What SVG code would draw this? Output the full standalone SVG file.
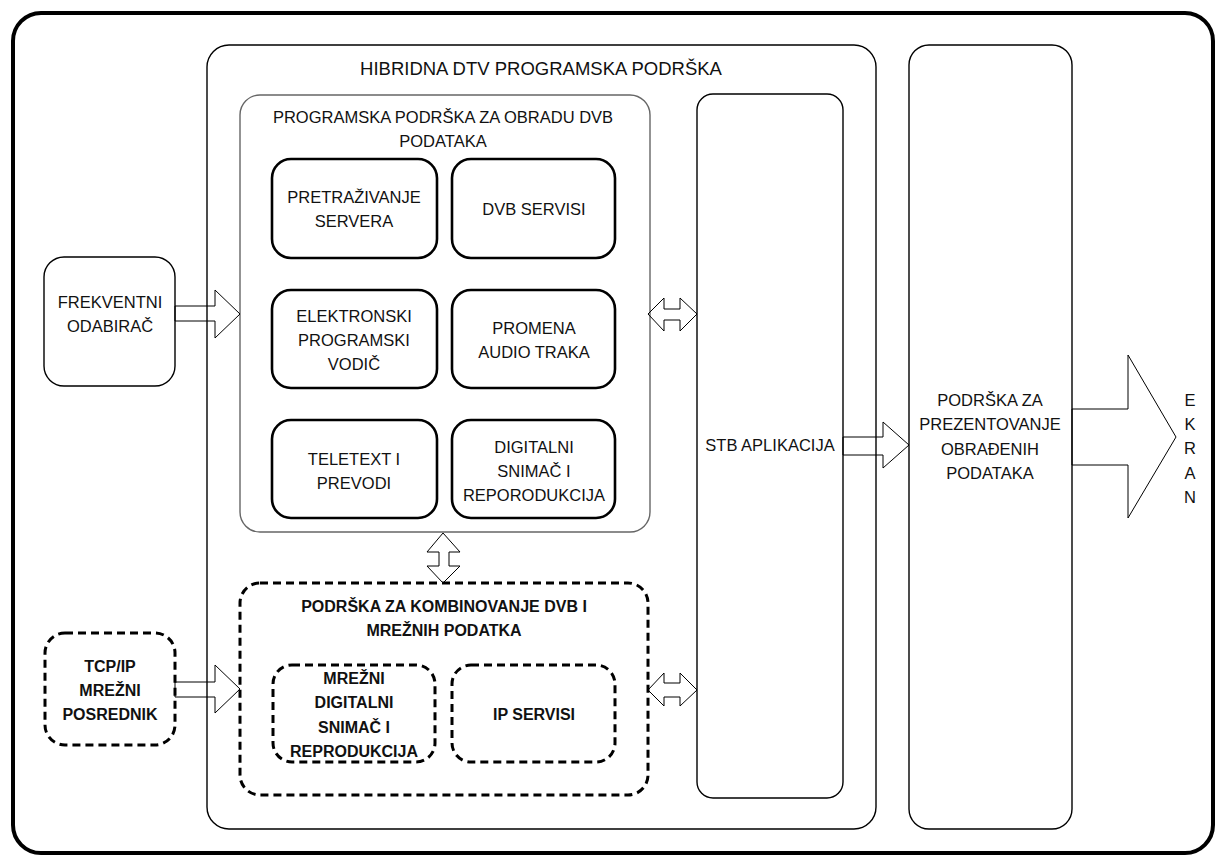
<svg xmlns="http://www.w3.org/2000/svg" width="1219" height="856" viewBox="0 0 1219 856">
<style>
text{font-family:"Liberation Sans",Arial,sans-serif;font-size:16.5px;fill:#111;text-anchor:middle}
.b{font-weight:bold;font-size:16px}
.t{font-size:18.5px}
.thin{fill:none;stroke:#000;stroke-width:1.4}
.gray{fill:none;stroke:#666;stroke-width:1.4}
.sub{fill:none;stroke:#000;stroke-width:2.6}
.dash{fill:none;stroke:#000;stroke-width:3;stroke-dasharray:8 5}
.arr{fill:none;stroke:#000;stroke-width:1}
</style>
<rect x="0" y="0" width="1219" height="856" fill="#fff"/>
<rect id="frame" x="13" y="13" width="1200" height="840" rx="28" fill="none" stroke="#000" stroke-width="4"/>
<g id="hybrid">
<rect class="thin" x="207" y="45" width="669" height="784" rx="22"/>
<text class="t" x="541" y="75">HIBRIDNA DTV PROGRAMSKA PODRŠKA</text>
</g>
<g id="dvb">
<rect class="gray" x="240" y="95" width="410" height="437" rx="20"/>
<text x="443" y="123">PROGRAMSKA PODRŠKA ZA OBRADU DVB</text>
<text x="443" y="147">PODATAKA</text>
</g>
<g id="pretrazivanje">
<rect class="sub" x="272" y="159" width="165" height="99" rx="19"/>
<text x="354" y="203">PRETRAŽIVANJE</text>
<text x="354" y="227">SERVERA</text>
</g>
<g id="dvbservisi">
<rect class="sub" x="452" y="159" width="163" height="99" rx="19"/>
<text x="534" y="215">DVB SERVISI</text>
</g>
<g id="epg">
<rect class="sub" x="272" y="290" width="165" height="98" rx="19"/>
<text x="354" y="322">ELEKTRONSKI</text>
<text x="354" y="346">PROGRAMSKI</text>
<text x="354" y="370">VODIČ</text>
</g>
<g id="audio">
<rect class="sub" x="452" y="290" width="163" height="98" rx="19"/>
<text x="534" y="334">PROMENA</text>
<text x="534" y="358">AUDIO TRAKA</text>
</g>
<g id="teletext">
<rect class="sub" x="272" y="420" width="165" height="98" rx="19"/>
<text x="354" y="465">TELETEXT I</text>
<text x="354" y="489">PREVODI</text>
</g>
<g id="dvr">
<rect class="sub" x="452" y="420" width="163" height="98" rx="19"/>
<text x="534" y="453">DIGITALNI</text>
<text x="534" y="477">SNIMAČ I</text>
<text x="534" y="501">REPORODUKCIJA</text>
</g>
<g id="kombinovanje">
<rect class="dash" x="240" y="583" width="408" height="212" rx="20"/>
<text class="b" x="444" y="612">PODRŠKA ZA KOMBINOVANJE DVB I</text>
<text class="b" x="444" y="636">MREŽNIH PODATKA</text>
</g>
<g id="mrezni">
<rect class="dash" x="273" y="665" width="162" height="97" rx="19"/>
<text class="b" x="354" y="684">MREŽNI</text>
<text class="b" x="354" y="708">DIGITALNI</text>
<text class="b" x="354" y="733">SNIMAČ I</text>
<text class="b" x="354" y="757">REPRODUKCIJA</text>
</g>
<g id="ipservisi">
<rect class="dash" x="452" y="665" width="163" height="97" rx="19"/>
<text class="b" x="534" y="720">IP SERVISI</text>
</g>
<g id="frekventni">
<rect class="thin" x="44" y="257" width="131" height="129" rx="20" stroke="#333"/>
<text x="110" y="308">FREKVENTNI</text>
<text x="110" y="332">ODABIRAČ</text>
</g>
<g id="tcpip">
<rect class="dash" x="45" y="633" width="130" height="112" rx="20"/>
<text class="b" x="110" y="672">TCP/IP</text>
<text class="b" x="110" y="696">MREŽNI</text>
<text class="b" x="110" y="720">POSREDNIK</text>
</g>
<g id="stb">
<rect class="thin" x="697" y="94" width="146" height="704" rx="16" stroke="#333"/>
<text x="770" y="451">STB APLIKACIJA</text>
</g>
<g id="prezentovanje">
<rect class="thin" x="909" y="45" width="163" height="784" rx="20"/>
<text x="990" y="406">PODRŠKA ZA</text>
<text x="990" y="430">PREZENTOVANJE</text>
<text x="990" y="455">OBRAĐENIH</text>
<text x="990" y="479">PODATAKA</text>
</g>
<g id="ekran">
<text x="1190" y="406">E</text>
<text x="1190" y="430">K</text>
<text x="1190" y="454">R</text>
<text x="1190" y="479">A</text>
<text x="1190" y="503">N</text>
</g>
<g id="connectors">
<polygon class="arr" points="175,306 215,306 215,290 240,314 215,338 215,321 175,321"/>
<polygon class="arr" points="175,682 215,682 215,665 240,689 215,713 215,697 175,697"/>
<polygon class="arr" points="648,314 664,298 664,309 680,309 680,298 697,314 680,331 680,320 664,320 664,331"/>
<polygon class="arr" points="648,690 664,673 664,683 680,683 680,673 697,690 680,706 680,697 664,697 664,706"/>
<polygon class="arr" points="443,533 460,552 449,552 449,566 460,566 443,583 427,566 439,566 439,552 427,552"/>
<polygon class="arr" points="843,437 883,437 883,422 909,445 883,468 883,455 843,455"/>
<polygon class="arr" points="1072,409 1128,409 1128,355 1176,437 1128,518 1128,465 1072,465"/>
</g>
</svg>
